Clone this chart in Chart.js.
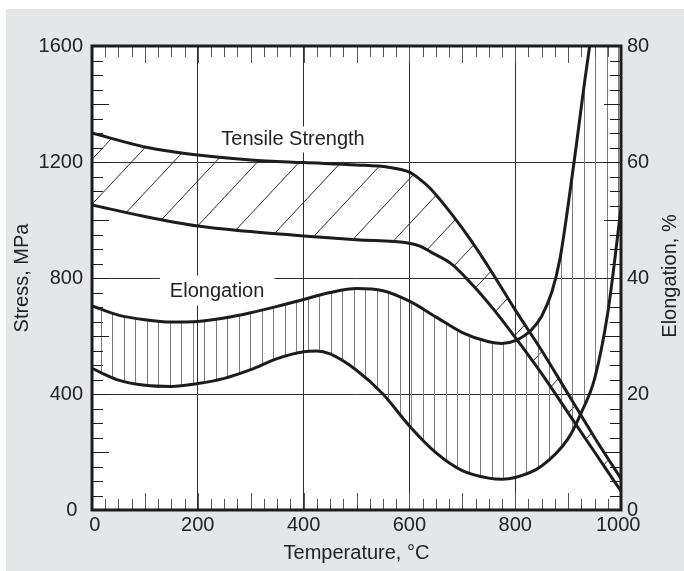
<!DOCTYPE html>
<html>
<head>
<meta charset="utf-8">
<script src="https://cdn.jsdelivr.net/npm/chart.js@4/dist/chart.umd.min.js"></script>
<style>
html,body{margin:0;padding:0;background:#ffffff;}
canvas{display:block;}
</style>
</head>
<body>
<canvas id="c" width="684" height="571"></canvas>
<script>
// ---------------- data ----------------
const tempTicks   = [0, 200, 400, 600, 800, 1000];
const stressTicks = [0, 400, 800, 1200, 1600];
const elongTicks  = [0, 20, 40, 60, 80];

const tensileUpperT = [0, 100, 200, 300, 400, 500, 560, 600, 620, 640, 680, 720, 760, 800, 850, 900, 950, 1000];
const tensileUpperS = [1300, 1252, 1224, 1207, 1198, 1190, 1182, 1165, 1140, 1108, 1020, 920, 808, 690, 550, 400, 250, 108];

const tensileLowerT = [0, 100, 200, 300, 400, 500, 600, 620, 640, 680, 720, 760, 800, 850, 900, 950, 1000];
const tensileLowerS = [1052, 1012, 979, 960, 945, 932, 920, 910, 890, 848, 775, 690, 595, 470, 335, 200, 65];

const elongUpperT = [0, 50, 100, 150, 200, 250, 300, 350, 400, 450, 500, 550, 600, 650, 700, 750, 775, 800, 830, 850, 870, 885, 900, 915, 930, 950];
const elongUpperE = [35.2, 33.6, 32.8, 32.4, 32.5, 33.1, 34.0, 35.1, 36.3, 37.5, 38.2, 37.8, 36.0, 33.3, 30.6, 29.0, 28.7, 29.2, 31.0, 33.4, 37.8, 43.5, 52.5, 62.5, 73.0, 86.0];

const elongLowerT = [0, 50, 100, 150, 200, 250, 300, 350, 400, 425, 450, 500, 550, 600, 650, 700, 750, 775, 800, 850, 900, 925, 950, 975, 1000];
const elongLowerE = [24.4, 22.4, 21.5, 21.3, 21.8, 22.7, 24.2, 26.1, 27.3, 27.4, 26.9, 24.1, 20.0, 14.5, 9.9, 6.8, 5.5, 5.3, 5.6, 7.6, 12.3, 16.8, 22.6, 34.0, 52.0];

const bandLabels = ['Tensile Strength', 'Elongation'];
const xTitle = 'Temperature, °C';
const yTitle = 'Stress, MPa';
const y2Title = 'Elongation, %';

// ---------------- styling ----------------
const FONT = '"Liberation Sans", Arial, Helvetica, sans-serif';
const INK = '#1c1c1c';
const TXT = '#222222';

function toPoints(xs, ys) { return xs.map((x, i) => ({ x: x, y: ys[i] })); }

function curve(data, axis) {
  return {
    data: data, yAxisID: axis, borderColor: INK, borderWidth: 3,
    pointRadius: 0, fill: false, cubicInterpolationMode: 'monotone',
    borderJoinStyle: 'round', borderCapStyle: 'round'
  };
}

function clipSide(ctx, line, a, toTop) {
  const p = line.points.filter(q => !q.skip);
  const f = p[0], l = p[p.length - 1];
  const edge = toTop ? a.top - 60 : a.bottom + 60;
  ctx.beginPath();
  line.path(ctx);
  ctx.lineTo(a.right + 60, l.y);
  ctx.lineTo(a.right + 60, edge);
  ctx.lineTo(a.left - 60, edge);
  ctx.lineTo(a.left - 60, f.y);
  ctx.closePath();
  ctx.clip();
}

const panelPlugin = {
  id: 'panel',
  beforeDraw(chart) {
    const { ctx, chartArea: a } = chart;
    ctx.save();
    ctx.fillStyle = '#e5e6e8';
    ctx.fillRect(6, 9, chart.width - 6, chart.height - 9);
    ctx.fillStyle = '#ffffff';
    ctx.fillRect(a.left, a.top, a.right - a.left, a.bottom - a.top);
    ctx.restore();
  }
};

const hatchPlugin = {
  id: 'hatch',
  beforeDatasetsDraw(chart) {
    const { ctx, chartArea: a } = chart;
    const line = i => chart.getDatasetMeta(i).dataset;
    const w = a.right - a.left, h = a.bottom - a.top;

    // diagonal hatch between tensile curves
    ctx.save();
    ctx.beginPath(); ctx.rect(a.left, a.top, w, h); ctx.clip();
    clipSide(ctx, line(0), a, false);
    clipSide(ctx, line(1), a, true);
    ctx.strokeStyle = '#2a2a2a';
    ctx.lineWidth = 1;
    ctx.beginPath();
    const slope = 1.07, sp = 44.9, off = 23.6;
    for (let c = off; c < h + slope * w + sp; c += sp) {
      ctx.moveTo(a.left, a.top + c);
      ctx.lineTo(a.right, a.top + c - slope * w);
    }
    ctx.stroke();
    ctx.restore();

    // vertical hatch between elongation curves
    ctx.save();
    ctx.beginPath(); ctx.rect(a.left, a.top, w, h); ctx.clip();
    clipSide(ctx, line(2), a, false);
    clipSide(ctx, line(3), a, true);
    ctx.strokeStyle = '#7d7d7d';
    ctx.lineWidth = 1;
    ctx.beginPath();
    for (let x = a.left + 9; x < a.right; x += 11.49) {
      const px = Math.round(x) + 0.5;
      ctx.moveTo(px, a.top);
      ctx.lineTo(px, a.bottom);
    }
    ctx.stroke();
    ctx.restore();
  }
};

const decoPlugin = {
  id: 'deco',
  afterDatasetsDraw(chart) {
    const { ctx, chartArea: a, scales } = chart;
    const sx = scales.x, sy = scales.y;
    ctx.save();

    // minor / medium ticks on all four sides
    ctx.lineWidth = 1;
    ctx.strokeStyle = '#555555';
    ctx.beginPath();
    for (let v = 25; v < 1000; v += 25) {
      const px = Math.round(sx.getPixelForValue(v)) + 0.5;
      const len = (v % 100 === 0) ? 17 : 11;
      ctx.moveTo(px, a.bottom); ctx.lineTo(px, a.bottom - len);
      ctx.moveTo(px, a.top); ctx.lineTo(px, a.top + len);
    }
    ctx.stroke();
    ctx.strokeStyle = '#1c1c1c';
    ctx.beginPath();
    for (let v = 50; v < 1600; v += 50) {
      const py = Math.round(sy.getPixelForValue(v)) + 0.5;
      const len = (v % 200 === 0) ? 17 : 11;
      ctx.moveTo(a.left, py); ctx.lineTo(a.left + len, py);
      ctx.moveTo(a.right, py); ctx.lineTo(a.right - len, py);
    }
    ctx.stroke();

    // frame
    ctx.lineWidth = 3;
    ctx.strokeStyle = INK;
    ctx.strokeRect(a.left, a.top, a.right - a.left, a.bottom - a.top);

    // band labels with white boxes
    const anchors = [
      { x: 380, y: 1257, padX: 8, padTop: 4, padBottom: 7 },
      { x: 236.5, y: 733, padX: 10, padTop: 7, padBottom: 8 }
    ];
    ctx.font = '20px ' + FONT;
    ctx.textAlign = 'center';
    ctx.textBaseline = 'alphabetic';
    bandLabels.forEach((t, i) => {
      const an = anchors[i];
      const px = sx.getPixelForValue(an.x), py = sy.getPixelForValue(an.y);
      const m = ctx.measureText(t);
      const asc = m.actualBoundingBoxAscent;
      ctx.fillStyle = '#ffffff';
      ctx.fillRect(px - m.width / 2 - an.padX, py - asc - an.padTop, m.width + 2 * an.padX, asc + an.padTop + an.padBottom);
      ctx.fillStyle = TXT;
      ctx.fillText(t, px, py);
    });

    // right axis title (reads bottom-to-top)
    ctx.save();
    ctx.translate(670, (a.top + a.bottom) / 2 - 2);
    ctx.rotate(-Math.PI / 2);
    ctx.textAlign = 'center';
    ctx.textBaseline = 'middle';
    ctx.fillStyle = TXT;
    ctx.fillText(y2Title, 0, 0);
    ctx.restore();

    ctx.restore();
  }
};

const tickFont = { family: FONT, size: 20 };

new Chart(document.getElementById('c'), {
  type: 'line',
  data: {
    datasets: [
      curve(toPoints(tensileUpperT, tensileUpperS), 'y'),
      curve(toPoints(tensileLowerT, tensileLowerS), 'y'),
      curve(toPoints(elongUpperT, elongUpperE), 'y2'),
      curve(toPoints(elongLowerT, elongLowerE), 'y2')
    ]
  },
  options: {
    responsive: false,
    animation: false,
    devicePixelRatio: 1,
    layout: { padding: { top: 46, left: 0, right: 0, bottom: 0 } },
    plugins: { legend: { display: false }, tooltip: { enabled: false } },
    scales: {
      x: {
        type: 'linear', position: 'bottom', min: 0, max: 1000,
        afterBuildTicks: s => { s.ticks = tempTicks.map(v => ({ value: v })); },
        afterFit: s => { s.height = 61; },
        grid: { color: '#2e2e2e', lineWidth: 1, drawTicks: false, tickLength: 0 },
        border: { display: false },
        ticks: {
          font: tickFont, color: TXT, padding: 3, maxRotation: 0, autoSkip: false,
          callback: v => v === 0 ? ' 0' : (v === 1000 ? '1000 ' : String(v))
        },
        title: { display: true, text: xTitle, font: tickFont, color: TXT, padding: { top: 0, bottom: 6 } }
      },
      y: {
        type: 'linear', position: 'left', min: 0, max: 1600,
        afterBuildTicks: s => { s.ticks = stressTicks.map(v => ({ value: v })); },
        afterFit: s => { s.width = 92; },
        grid: { color: '#2e2e2e', lineWidth: 1, drawTicks: false, tickLength: 0 },
        border: { display: false },
        ticks: {
          font: tickFont, color: TXT, padding: 9, autoSkip: false,
          callback: v => v === 0 ? '0 ' : String(v)
        },
        title: { display: true, text: yTitle, font: tickFont, color: TXT, padding: { top: 10, bottom: 0 } }
      },
      y2: {
        type: 'linear', position: 'right', min: 0, max: 80,
        afterBuildTicks: s => { s.ticks = elongTicks.map(v => ({ value: v })); },
        afterFit: s => { s.width = 63; },
        grid: { display: false, drawTicks: false, tickLength: 0 },
        border: { display: false },
        ticks: { font: tickFont, color: TXT, padding: 6, autoSkip: false },
        title: { display: false }
      }
    }
  },
  plugins: [panelPlugin, hatchPlugin, decoPlugin]
});
</script>
</body>
</html>
